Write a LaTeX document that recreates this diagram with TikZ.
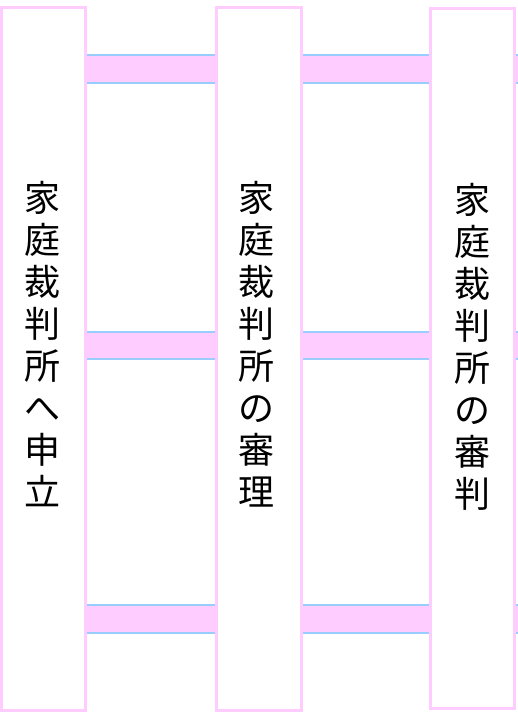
\documentclass[tikz,border=0pt]{standalone}
\usepackage{fontspec}
\newfontfamily\cjk{Noto Sans CJK JP}
\definecolor{boxpink}{RGB}{255,204,255}
\definecolor{bandpink}{RGB}{255,204,255}
\definecolor{bandblue}{RGB}{153,204,255}
\begin{document}
\begin{tikzpicture}[x=1pt,y=-1pt,
  stage/.style={draw=boxpink,line width=3pt,fill=white,rectangle,inner sep=0pt,outer sep=0pt},
  label/.style={font=\cjk\fontsize{36}{42}\selectfont,align=center,inner sep=0pt,text=black},
  bandfill/.style={fill=bandpink},
  bandline/.style={draw=bandblue,line width=2pt}]
\useasboundingbox (0,0) rectangle (517,715);
% bands
\node[stage,minimum width=84pt,minimum height=703pt] (b1) at (43,358.5) {};
\node[stage,minimum width=85pt,minimum height=703pt] (b2) at (258.5,358.5) {};
\node[stage,minimum width=84pt,minimum height=700pt] (b3) at (472,358) {};
\coordinate (edge) at (530,0);
\foreach \yt/\yb in {55/83,331.5/359,605/633}{
  \fill[bandfill] (b1.east |- 0,\yt) rectangle (b2.west |- 0,\yb);
  \draw[bandline] (b1.east |- 0,\yt) -- (b2.west |- 0,\yt);
  \draw[bandline] (b1.east |- 0,\yb) -- (b2.west |- 0,\yb);
  \fill[bandfill] (b2.east |- 0,\yt) rectangle (b3.west |- 0,\yb);
  \draw[bandline] (b2.east |- 0,\yt) -- (b3.west |- 0,\yt);
  \draw[bandline] (b2.east |- 0,\yb) -- (b3.west |- 0,\yb);
  \fill[bandfill] (b3.east |- 0,\yt) rectangle (edge |- 0,\yb);
  \draw[bandline] (b3.east |- 0,\yt) -- (edge |- 0,\yt);
  \draw[bandline] (b3.east |- 0,\yb) -- (edge |- 0,\yb);
}
% redraw box outlines on top of band ends
\draw[draw=boxpink,line width=3pt] (b1.south west) rectangle (b1.north east);
\draw[draw=boxpink,line width=3pt] (b2.south west) rectangle (b2.north east);
\draw[draw=boxpink,line width=3pt] (b3.south west) rectangle (b3.north east);
% labels
\node[label] (t1) at (42,344) {家\\庭\\裁\\判\\所\\へ\\申\\立};
\node[label] (t2) at (256,344) {家\\庭\\裁\\判\\所\\の\\審\\理};
\node[label] (t3) at (472,347) {家\\庭\\裁\\判\\所\\の\\審\\判};
\end{tikzpicture}
\end{document}
